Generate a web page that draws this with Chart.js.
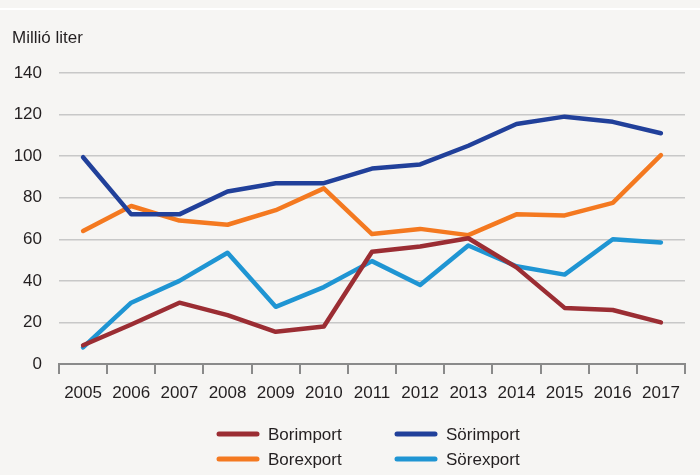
<!DOCTYPE html>
<html>
<head>
<meta charset="utf-8">
<script src="https://cdn.jsdelivr.net/npm/chart.js@4"></script>
<style>
  html, body { margin: 0; padding: 0; background: #f6f5f3; }
  #wrap { width: 700px; height: 475px; }
</style>
</head>
<body>
<div id="wrap"><canvas id="myChart" width="700" height="475"></canvas></div>
<script>
var years = ['2005', '2006', '2007', '2008', '2009', '2010', '2011', '2012', '2013', '2014', '2015', '2016', '2017'];
var borimport = [9, 19, 29.5, 23.5, 15.5, 18, 54, 56.5, 60.5, 46.5, 27, 26, 20];
var sorimport = [99.5, 72, 72, 83, 87, 87, 94, 96, 105, 115.5, 119, 116.5, 111];
var borexport = [64, 76, 69, 67, 74, 84.5, 62.5, 65, 62, 72, 71.5, 77.5, 100.5];
var sorexport = [8, 29.5, 40, 53.5, 27.5, 37, 49.5, 38, 57, 47, 43, 60, 58.5];

var textColor = '#231f20';
var fontFamily = '"Liberation Sans", Arial, sans-serif';
var fontSize = 17;

var bgPlugin = {
    id: 'bg',
    beforeDraw: function (chart) {
        var c = chart.ctx;
        c.save();
        c.fillStyle = '#f6f5f3';
        c.fillRect(0, 0, chart.width, chart.height);
        c.fillStyle = '#ffffff';
        c.fillRect(0, 8, chart.width, 2);
        c.restore();
    }
};

// two-column legend under the chart
var legendPlugin = {
    id: 'twoColLegend',
    afterDraw: function (chart) {
        var c = chart.ctx;
        var cols = [217, 395];
        var rows = [434, 459];
        c.save();
        c.font = fontSize + 'px ' + fontFamily;
        c.textBaseline = 'middle';
        c.textAlign = 'left';
        chart.data.datasets.forEach(function (ds, i) {
            var x = cols[i % 2];
            var y = rows[Math.floor(i / 2)];
            c.strokeStyle = ds.borderColor;
            c.lineWidth = 5;
            c.lineCap = 'round';
            c.beginPath();
            c.moveTo(x + 2, y);
            c.lineTo(x + 40, y);
            c.stroke();
            c.fillStyle = textColor;
            c.fillText(ds.label, x + 51, y + 1);
        });
        c.restore();
    }
};

var ctx = document.getElementById('myChart').getContext('2d');
var myChart = new Chart(ctx, {
    type: 'line',
    data: {
        labels: years,
        datasets: [{
            label: 'Borimport',
            data: borimport,
            borderColor: '#9b2d33'
        }, {
            label: 'Sörimport',
            data: sorimport,
            borderColor: '#21409a'
        }, {
            label: 'Borexport',
            data: borexport,
            borderColor: '#f47920'
        }, {
            label: 'Sörexport',
            data: sorexport,
            borderColor: '#1f95d3'
        }]
    },
    options: {
        responsive: false,
        animation: false,
        devicePixelRatio: 1,
        elements: {
            line: { borderWidth: 4.5, tension: 0, borderCapStyle: 'round', borderJoinStyle: 'round' },
            point: { radius: 0, hoverRadius: 0 }
        },
        layout: {
            padding: { left: 12, right: 15, top: 0, bottom: 66 }
        },
        plugins: {
            legend: { display: false },
            tooltip: { enabled: false },
            title: {
                display: true,
                text: 'Millió liter',
                align: 'start',
                color: textColor,
                font: { family: fontFamily, size: fontSize, weight: 'normal' },
                padding: { top: 28, bottom: 24.6 }
            }
        },
        scales: {
            x: {
                offset: true,
                grid: {
                    offset: true,
                    drawOnChartArea: false,
                    drawTicks: true,
                    tickLength: 10,
                    color: '#8a8a8a',
                    lineWidth: 2
                },
                border: { color: '#8a8a8a', width: 2 },
                ticks: {
                    color: textColor,
                    padding: 9,
                    maxRotation: 0,
                    autoSkip: false,
                    font: { family: fontFamily, size: fontSize }
                },
                afterFit: function (scale) { scale.height = 45; }
            },
            y: {
                min: 0,
                max: 140,
                grid: {
                    color: '#c8c8c8',
                    lineWidth: 1.5,
                    drawTicks: false
                },
                border: { display: false },
                ticks: {
                    stepSize: 20,
                    color: textColor,
                    padding: 17,
                    font: { family: fontFamily, size: fontSize }
                },
                afterFit: function (scale) { scale.width = 47; }
            }
        }
    },
    plugins: [bgPlugin, legendPlugin]
});
</script>
</body>
</html>
